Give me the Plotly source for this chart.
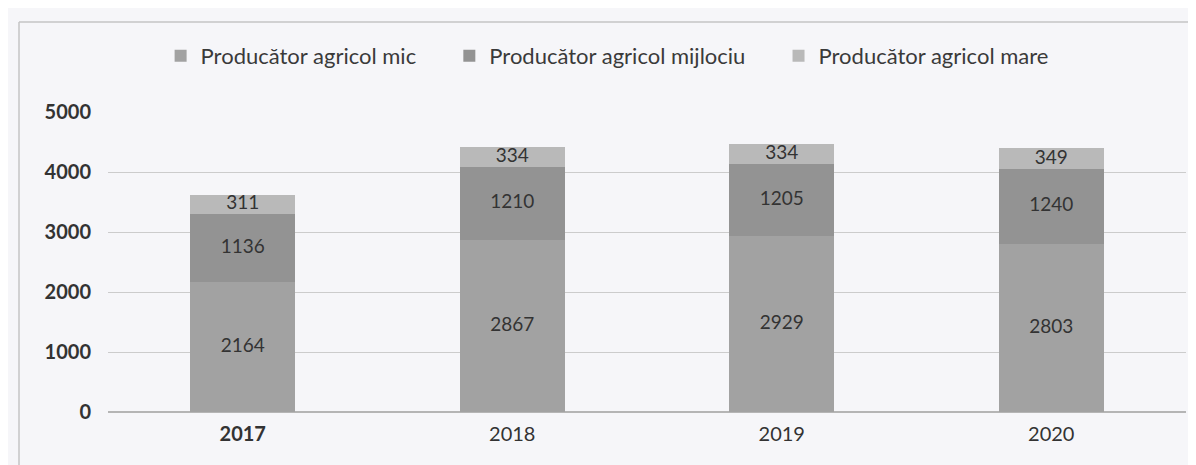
import plotly.graph_objects as go

years = ["2017", "2018", "2019", "2020"]
mic = [2164, 2867, 2929, 2803]
mijlociu = [1136, 1210, 1205, 1240]
mare = [311, 334, 334, 349]
series_names = ["Producător agricol mic", "Producător agricol mijlociu", "Producător agricol mare"]
colors = ["#a2a2a2", "#939393", "#b9b9b9"]
year_labels = ["<b>2017</b>", "2018", "2019", "2020"]

FONT = "Lato"
PAD = "\u00a0" * 5
fig = go.Figure()
series = [mic, mijlociu, mare]
for i, (name, vals, col) in enumerate(zip(series_names, series, colors)):
    fig.add_trace(go.Bar(
        x=years, y=vals, name=name + (PAD if i < 2 else ""),
        marker=dict(color=col, line=dict(width=0)),
        hoverinfo="y",
    ))

# value labels centered in each segment (positions derived from the data)
base = [0] * len(years)
for vals in series:
    mids = [b + v / 2 for b, v in zip(base, vals)]
    fig.add_trace(go.Scatter(
        x=years, y=mids, mode="text", text=[str(v) for v in vals],
        textposition="middle center", showlegend=False, hoverinfo="skip",
        textfont=dict(size=19, color="#333333", family=FONT),
    ))
    base = [b + v for b, v in zip(base, vals)]

PW, PH = 1078, 300
fig.update_layout(
    barmode="stack",
    bargap=0.61,
    width=1196, height=465,
    margin=dict(l=100, r=18, t=104, b=61, autoexpand=False),
    paper_bgcolor="#f6f6f9",
    plot_bgcolor="#f6f6f9",
    font=dict(family=FONT, size=20, color="#333333"),
    legend=dict(orientation="h", x=0.463, xanchor="center", y=1.187, yanchor="middle",
                bgcolor="rgba(0,0,0,0)",
                font=dict(size=22, color="#3a3a3a", family=FONT), traceorder="normal",
                itemwidth=30),
    xaxis=dict(showgrid=False, showline=False, ticks="",
               tickmode="array", tickvals=years, ticktext=year_labels,
               tickfont=dict(size=20, color="#333333", family=FONT),
               ticklabelstandoff=8),
    yaxis=dict(range=[0, 5000], dtick=1000, showgrid=True, gridcolor="#cccccc", gridwidth=1,
               zeroline=True, zerolinecolor="#b5b5b5", zerolinewidth=1.5, ticks="",
               tickfont=dict(size=20, color="#333333", family=FONT),
               tickprefix="<b>", ticksuffix="</b>",
               ticklabelstandoff=16),
    shapes=[
        dict(type="line", xref="paper", yref="paper",
             x0=-89 / PW, x1=1 + 12 / PW, y0=1 + 90 / PH, y1=1 + 90 / PH,
             line=dict(color="#c4c4c4", width=1.5)),
        dict(type="line", xref="paper", yref="paper",
             x0=-89 / PW, x1=-89 / PW, y0=1 + 90 / PH, y1=-62 / PH,
             line=dict(color="#c4c4c4", width=1.5)),
    ],
)

fig.write_html("out.html")
